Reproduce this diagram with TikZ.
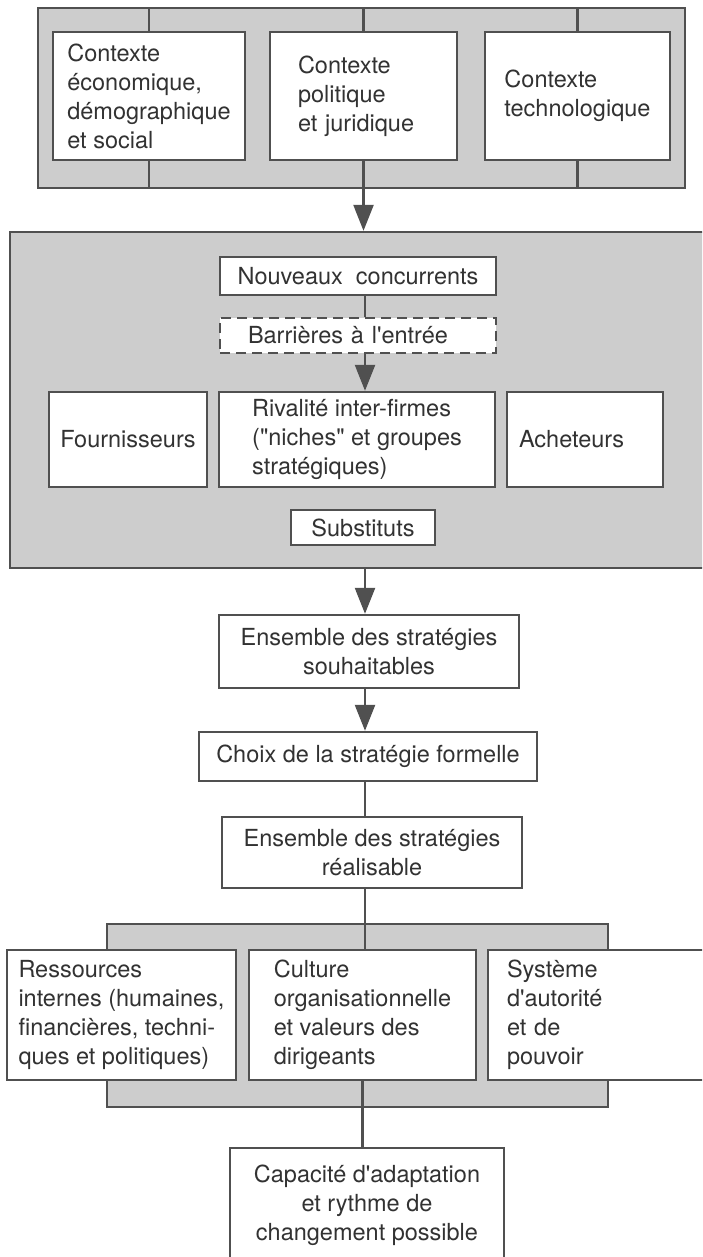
\documentclass[tikz,border=0pt]{standalone}
\usepackage{fontspec}
\setmainfont{TeX Gyre Heros}
\usetikzlibrary{arrows.meta}
\definecolor{ln}{RGB}{80,80,80}
\definecolor{tx}{RGB}{50,50,50}
\definecolor{bandgray}{RGB}{205,205,205}
\newcommand\myapo{\textquotesingle}
\newcommand\mydq{\textquotedbl}
\begin{document}
\begin{tikzpicture}[x=1pt,y=-1pt,
  every node/.style={font=\fontsize{23.5}{29}\selectfont, text=tx},
  band/.style={draw=ln, line width=2.4pt, fill=bandgray, inner sep=0pt},
  box/.style={draw=ln, line width=2.4pt, fill=white, inner sep=0pt, align=center},
  lbox/.style={box, align=left},
  dbox/.style={box, dash pattern=on 10pt off 6pt},
  conn/.style={draw=ln, line width=2.4pt},
  arr/.style={conn, -{Triangle[width=20pt,length=26pt]}}]
\useasboundingbox (0,0) rectangle (702,1257);
\clip (0,0) rectangle (702,1257);
\coordinate (axis) at (365,0);

% top band
\node[band, minimum width=647, minimum height=180] (topband) at (361.5,98) {};
\node[lbox, minimum width=192, minimum height=128] (c1) at (149,96)
  {Contexte\\économique,\\démographique\\et social};
\node[lbox, minimum width=187, minimum height=128, text width=131] (c2) at (363.5,96)
  {Contexte\\politique\\et juridique};
\node[lbox, minimum width=185, minimum height=128] (c3) at (577.5,96)
  {Contexte\\technologique};
\foreach \b in {c1,c2,c3}{
  \draw[conn] (\b.north) -- (\b.north |- topband.north);
  \draw[conn] (\b.south) -- (\b.south |- topband.south);
}

% middle band
\node[band, minimum width=706, minimum height=336] (midband) at (363,400) {};
\node[box, minimum width=276, minimum height=38] (nouv) at (358,276)
  {Nouveaux\ \ concurrents};
\node[dbox, minimum width=276, minimum height=35, text width=220, align=left] (barr) at (358,335.5)
  {Barrières à l\myapo entrée};
\node[box, minimum width=158, minimum height=95] (four) at (128,439.5)
  {Fournisseurs};
\node[lbox, minimum width=276, minimum height=95] (riv) at (357,439.5)
  {Rivalité inter-firmes\\(\mydq niches\mydq\ et groupes\\stratégiques)};
\node[lbox, minimum width=156, minimum height=95, text width=132] (ach) at (585,439.5)
  {Acheteurs};
\node[box, minimum width=144, minimum height=35] (subs) at (363,527.5)
  {Substituts};

% chain
\node[box, minimum width=300, minimum height=73] (souh) at (369,651.5)
  {Ensemble des stratégies\\souhaitables};
\node[box, minimum width=338, minimum height=49] (choix) at (368,756.5)
  {Choix de la stratégie formelle};
\node[box, minimum width=300, minimum height=71] (real) at (372,852.5)
  {Ensemble des stratégies\\réalisable};

% bottom band
\node[band, minimum width=501, minimum height=183] (botband) at (357.5,1015.5) {};
\node[lbox, minimum width=229, minimum height=130] (ress) at (121.5,1015)
  {Ressources\\internes (humaines,\\financières, techni-\\ques et politiques)};
\node[lbox, minimum width=227, minimum height=130] (cult) at (362.5,1015)
  {Culture\\organisationnelle\\et valeurs des\\dirigeants};
\node[lbox, minimum width=228, minimum height=130, text width=190] (sys) at (602,1015)
  {Système\\d\myapo autorité\\et de\\pouvoir};
\node[box, minimum width=274, minimum height=114] (capa) at (367,1205)
  {Capacité d\myapo adaptation\\et rythme de\\changement possible};

% connectors
\draw[arr] (c2.south |- topband.south) -- (c2.south |- midband.north);
\draw[conn] (axis |- nouv.south) -- (axis |- barr.north);
\draw[arr] (axis |- barr.south) -- (axis |- riv.north);
\draw[arr] (axis |- midband.south) -- (axis |- souh.north);
\draw[arr] (axis |- souh.south) -- (axis |- choix.north);
\draw[conn] (axis |- choix.south) -- (axis |- real.north);
\draw[conn] (axis |- real.south) -- (axis |- cult.north);
\draw[conn] (cult.south) -- (cult.south |- capa.north);
\end{tikzpicture}
\end{document}
